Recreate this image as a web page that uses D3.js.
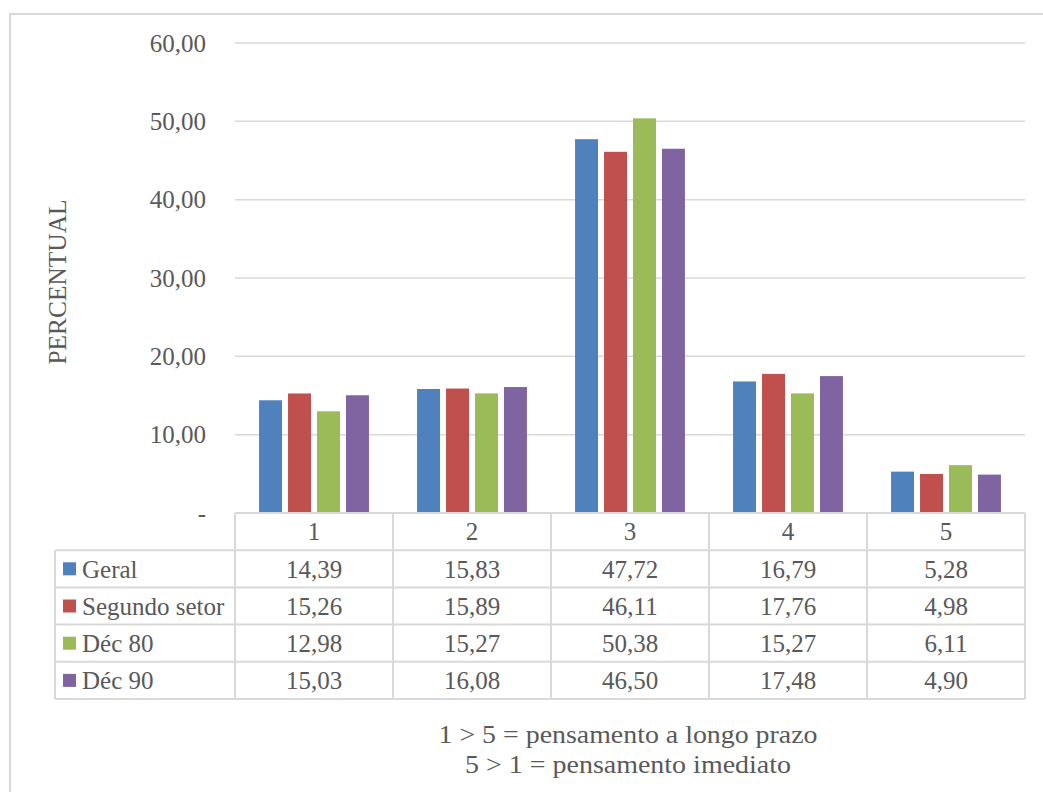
<!DOCTYPE html>
<html>
<head>
<meta charset="utf-8">
<script src="https://cdn.jsdelivr.net/npm/d3@7"></script>
<style>
  html, body { margin: 0; padding: 0; background: #fff; }
  svg { display: block; }
  text { font-family: "Liberation Serif", "Times New Roman", serif; fill: #595959; }
</style>
</head>
<body>
<svg id="chart" width="1043" height="792"></svg>
<script>
// Categories (scale 1..5) and the share of answers per group
const categories = ["1", "2", "3", "4", "5"];
const seriesNames = ["Geral", "Segundo setor", "Déc 80", "Déc 90"];
const geral        = [14.39, 15.83, 47.72, 16.79, 5.28];
const segundoSetor = [15.26, 15.89, 46.11, 17.76, 4.98];
const dec80        = [12.98, 15.27, 50.38, 15.27, 6.11];
const dec90        = [15.03, 16.08, 46.50, 17.48, 4.90];
const yTicks = [0, 10, 20, 30, 40, 50, 60];
const yTitle = "PERCENTUAL";
const notes = ["1 > 5 = pensamento a longo prazo", "5 > 1 = pensamento imediato"];

const colors = ["#4F81BD", "#C0504D", "#9BBB59", "#8064A2"];
const seriesValues = [geral, segundoSetor, dec80, dec90];
const FS = 25;

const fmt = v => v.toFixed(2).replace(".", ",");

const svg = d3.select("#chart");

// Outer chart frame (open to the right and bottom)
svg.append("path")
  .attr("d", "M10,792 V14 H1043")
  .attr("fill", "none").attr("stroke", "#D9D9D9").attr("stroke-width", 2);

const plot = { left: 235, right: 1025, top: 43, bottom: 513 };

const x = d3.scaleBand().domain(categories).range([plot.left, plot.right]).paddingInner(0).paddingOuter(0);
const xs = d3.scaleBand().domain(seriesNames).range([0, x.bandwidth()]).paddingInner(0.207).paddingOuter(0.83);
const y = d3.scaleLinear().domain([0, 60]).range([plot.bottom, plot.top]);

// Gridlines
svg.append("g").selectAll("line").data(yTicks.filter(t => t > 0)).join("line")
  .attr("x1", plot.left).attr("x2", plot.right)
  .attr("y1", d => y(d)).attr("y2", d => y(d))
  .attr("stroke", "#D9D9D9").attr("stroke-width", 1.5);

// Y tick labels
svg.append("g").selectAll("text").data(yTicks).join("text")
  .attr("x", 206).attr("y", d => y(d))
  .attr("dy", "0.35em")
  .attr("text-anchor", "end")
  .attr("font-size", FS)
  .text(d => d === 0 ? "-" : fmt(d));

// Y axis title, centred on the value axis
svg.append("text")
  .attr("transform", `translate(66,${(y(0) + y(60)) / 2 + 4}) rotate(-90)`)
  .attr("text-anchor", "middle")
  .attr("font-size", FS)
  .attr("textLength", 165).attr("lengthAdjust", "spacingAndGlyphs")
  .text(yTitle);

// Bars
const groups = svg.append("g").selectAll("g").data(categories).join("g")
  .attr("transform", d => `translate(${x(d)},0)`);
groups.selectAll("rect")
  .data((c, ci) => seriesNames.map((s, si) => ({ s, si, v: seriesValues[si][ci] })))
  .join("rect")
  .attr("x", d => xs(d.s))
  .attr("width", xs.bandwidth())
  .attr("y", d => y(d.v))
  .attr("height", d => y(0) - y(d.v))
  .attr("fill", d => colors[d.si]);

// Data table
const rowH = 37.2;
const tableTop = plot.bottom;
const rowY = i => tableTop + rowH * (i + 1); // row i (series) top
const tableLeft = 55;
const grid = svg.append("g").attr("stroke", "#D9D9D9").attr("stroke-width", 2).attr("fill", "none");

const colEdges = categories.map(c => x(c)).concat([plot.right]);
grid.append("line").attr("x1", plot.left).attr("x2", plot.right).attr("y1", tableTop).attr("y2", tableTop);
grid.selectAll("line.v").data(colEdges).join("line").attr("class", "v")
  .attr("x1", d => d).attr("x2", d => d)
  .attr("y1", tableTop).attr("y2", rowY(seriesNames.length - 1) + rowH);
grid.selectAll("line.h").data(d3.range(seriesNames.length + 1)).join("line").attr("class", "h")
  .attr("x1", tableLeft).attr("x2", plot.right)
  .attr("y1", i => tableTop + rowH * (i + 1)).attr("y2", i => tableTop + rowH * (i + 1));
grid.append("line").attr("x1", tableLeft).attr("x2", tableLeft)
  .attr("y1", rowY(0)).attr("y2", rowY(seriesNames.length - 1) + rowH);

// Category header labels
svg.append("g").selectAll("text").data(categories).join("text")
  .attr("x", d => x(d) + x.bandwidth() / 2)
  .attr("y", tableTop + rowH / 2)
  .attr("dy", "0.35em").attr("text-anchor", "middle").attr("font-size", FS)
  .text(d => d);

// Series rows: legend key, name and values
seriesNames.forEach((name, si) => {
  const top = rowY(si);
  const cy = top + rowH / 2;
  svg.append("rect").attr("x", 63).attr("y", cy - 6.5).attr("width", 13).attr("height", 13).attr("fill", colors[si]);
  svg.append("text").attr("x", 82).attr("y", cy).attr("dy", "0.35em").attr("font-size", FS).text(name);
  svg.append("g").selectAll("text").data(seriesValues[si]).join("text")
    .attr("x", (d, ci) => x(categories[ci]) + x.bandwidth() / 2)
    .attr("y", cy).attr("dy", "0.35em").attr("text-anchor", "middle").attr("font-size", FS)
    .text(d => fmt(d));
});

// Notes under the table
const noteWidths = [379, 326];
svg.append("g").selectAll("text").data(notes).join("text")
  .attr("x", 628).attr("y", (d, i) => 743 + i * 29.5)
  .attr("text-anchor", "middle").attr("font-size", FS + 1)
  .attr("textLength", (d, i) => noteWidths[i]).attr("lengthAdjust", "spacingAndGlyphs")
  .text(d => d);
</script>
</body>
</html>
